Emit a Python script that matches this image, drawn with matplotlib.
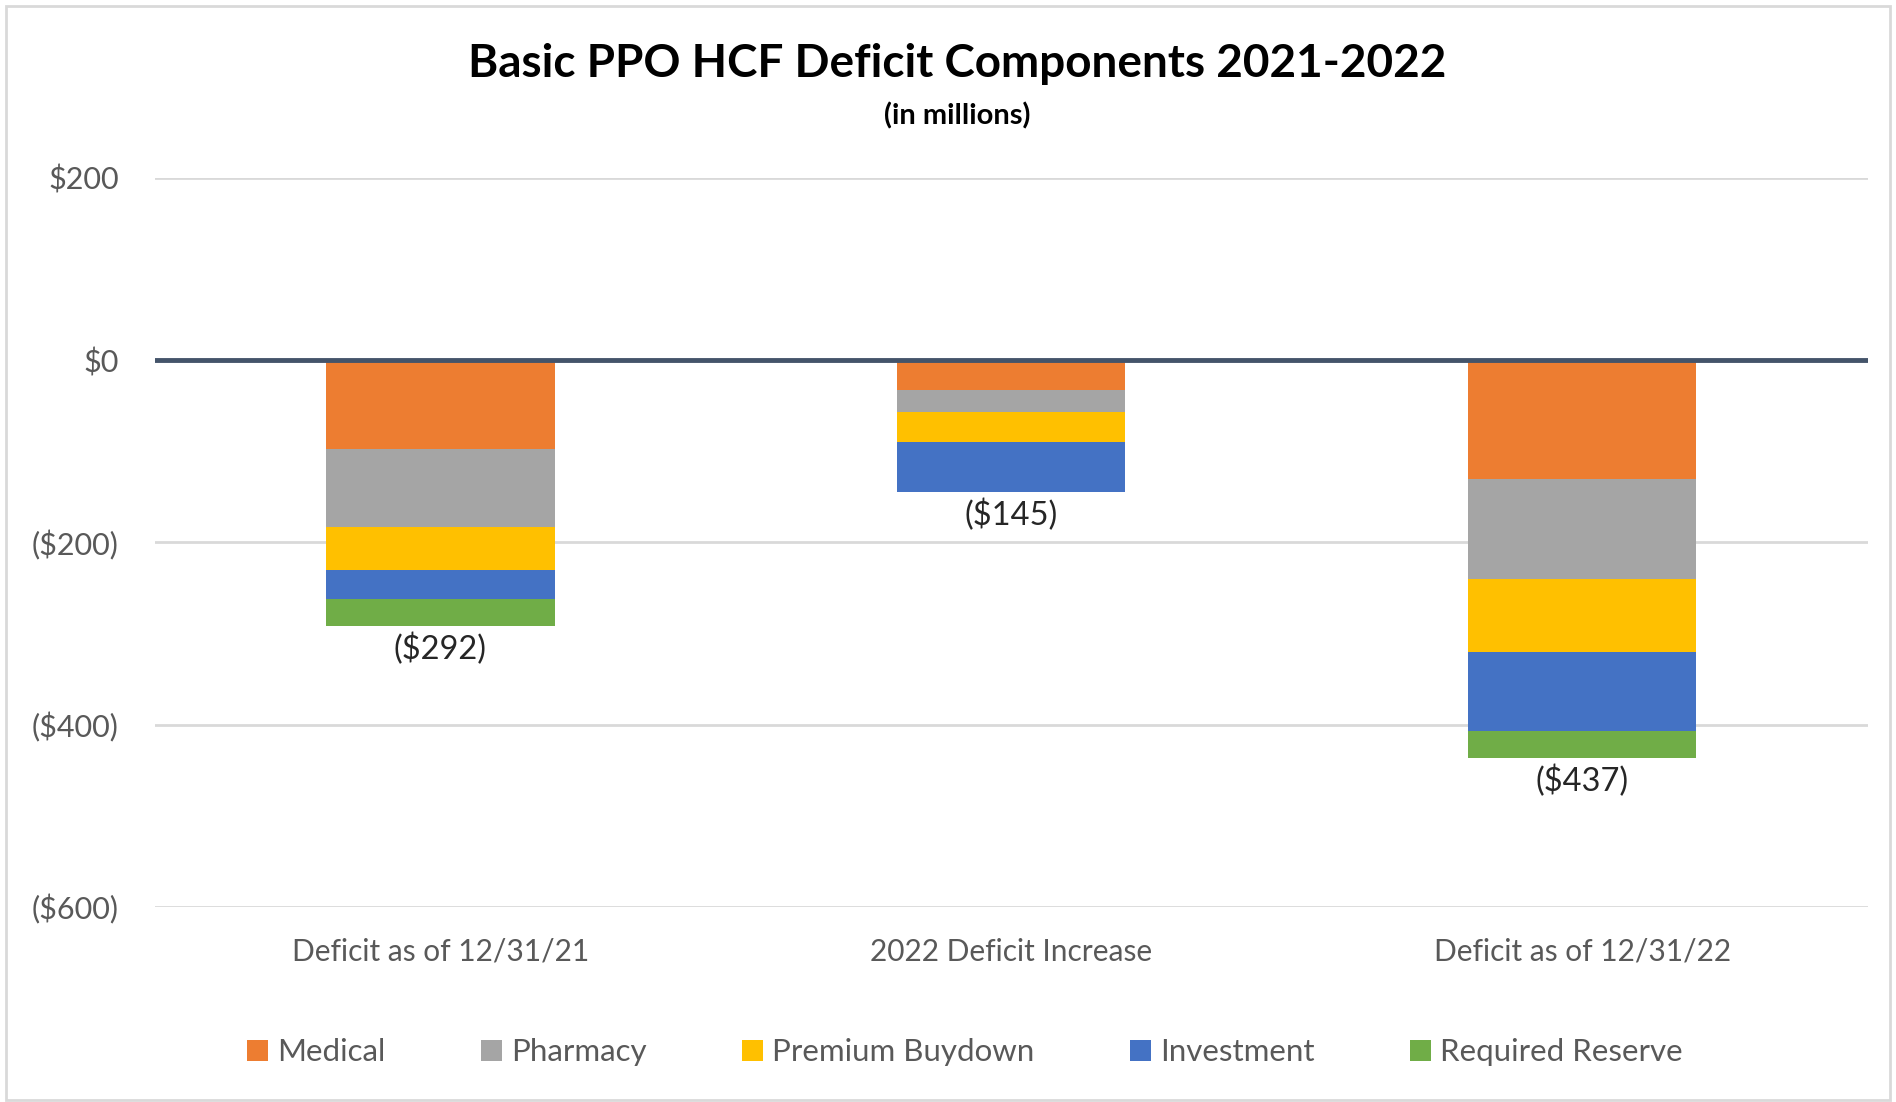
import matplotlib.pyplot as plt
import numpy as np
from matplotlib.patches import Rectangle

# data (in millions)
categories = ["Deficit as of 12/31/21", "2022 Deficit Increase", "Deficit as of 12/31/22"]
medical = [-97, -33, -130]
pharmacy = [-86, -24, -110]
premium_buydown = [-47, -33, -80]
investment = [-32, -55, -87]
required_reserve = [-30, 0, -30]
totals = [-292, -145, -437]
total_labels = ["($292)", "($145)", "($437)"]
yticks = [200, 0, -200, -400, -600]
ytick_labels = ["$200", "$0", "($200)", "($400)", "($600)"]

series = [
    ("Medical", medical, "#ED7D31"),
    ("Pharmacy", pharmacy, "#A5A5A5"),
    ("Premium Buydown", premium_buydown, "#FFC000"),
    ("Investment", investment, "#4472C4"),
    ("Required Reserve", required_reserve, "#70AD47"),
]

plt.rcParams['font.family'] = ['Lato', 'DejaVu Sans']

fig = plt.figure(figsize=(18.96, 11.02), dpi=100)
ax = fig.add_axes([0.0817, 0.177, 0.9033, 0.6615])

x = np.arange(len(categories))
bottom = np.zeros(len(categories))
for name, vals, col in series:
    vals = np.array(vals, dtype=float)
    ax.bar(x, vals, 0.40, bottom=bottom, color=col, label=name, zorder=3)
    bottom += vals

for xi, t, lab in zip(x, totals, total_labels):
    ax.text(xi, t - 7, lab, ha='center', va='top', fontsize=23.5, color='#262626', zorder=4)

ax.set_xlim(-0.5, 2.5)
ax.set_ylim(-600, 200)
ax.set_yticks(yticks)
ax.set_yticklabels(ytick_labels)
ax.set_xticks(x)
ax.set_xticklabels(categories)
ax.tick_params(axis='y', length=0, labelsize=22, colors='#595959', pad=26)
ax.tick_params(axis='x', length=0, labelsize=21.5, colors='#595959', pad=22)
ax.grid(axis='y', color='#D9D9D9', linewidth=2, zorder=0)
ax.axhline(0, color='#44546A', linewidth=3.5, zorder=5)
for s in ax.spines.values():
    s.set_visible(False)

fig.text(0.505, 0.942, "Basic PPO HCF Deficit Components 2021-2022", ha='center', va='center',
         fontsize=33, fontweight='bold', color='black')
fig.text(0.505, 0.895, "(in millions)", ha='center', va='center',
         fontsize=21, fontweight='bold', color='black')

leg = fig.legend(loc='center', bbox_to_anchor=(0.509, 0.045), ncol=5, frameon=False,
                 fontsize=22.5, handlelength=0.65, handleheight=0.65, columnspacing=3.07,
                 handletextpad=0.3)
for t in leg.get_texts():
    t.set_color('#595959')

fig.patches.append(Rectangle((0.003, 0.002), 0.994, 0.993, transform=fig.transFigure,
                             fill=False, edgecolor='#D9D9D9', linewidth=2))

fig.savefig("out.png", dpi=100, facecolor='white')
